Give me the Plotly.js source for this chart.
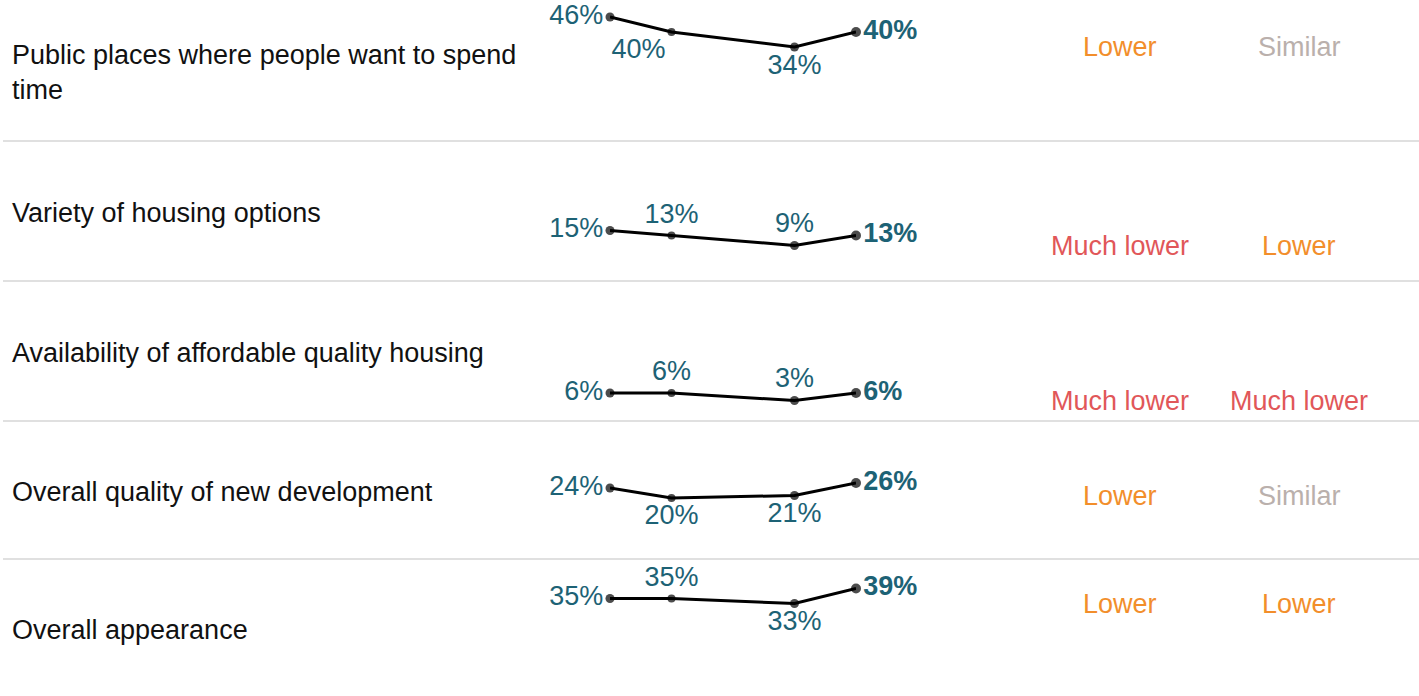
<!DOCTYPE html>
<html>
<head>
<meta charset="utf-8">
<script src="https://cdn.plot.ly/plotly-3.0.1.min.js"></script>
<style>
  html, body { margin: 0; padding: 0; background: #fff; }
  #chart { width: 1419px; height: 696px; }
</style>
</head>
<body>
<div id="chart"></div>
<script>
// data
const ROW_LABELS = [
  "Public places where people want to spend<br>time",
  "Variety of housing options",
  "Availability of affordable quality housing",
  "Overall quality of new development",
  "Overall appearance",
];
const WAVES = [1, 2, 4, 5];
const SCORES = [
  [46, 40, 34, 40],
  [15, 13, 9, 13],
  [6, 6, 3, 6],
  [24, 20, 21, 26],
  [35, 35, 33, 39],
];
const COMPARE_A = ["Lower", "Much lower", "Much lower", "Lower", "Lower"];
const COMPARE_B = ["Similar", "Lower", "Much lower", "Similar", "Lower"];

// styles
const W = 1419, H = 696;
const ROW_EDGES = [0, 141, 281, 421, 559, 696];   // px from top
const ZERO_OFFSET = [132, 127, 127, 127, 127];     // px from row top to 0%
const PX_PER_PCT = 2.5;
const LABEL_POS = [
  ["middle left", "bottom left", "bottom center", "middle right"],
  ["middle left", "top center", "top center", "middle right"],
  ["middle left", "top center", "top center", "middle right"],
  ["middle left", "bottom center", "bottom center", "middle right"],
  ["middle left", "top center", "bottom center", "middle right"],
];
const TEAL = "#1d6275";
const COMPARE_COLORS = { "Lower": "#f28e2b", "Much lower": "#e15759", "Similar": "#bab0ac" };
const FONT = "Liberation Sans, Arial, sans-serif";
const FS = 27;

const data = [];
const layout = {
  width: W, height: H,
  margin: { l: 0, r: 0, t: 0, b: 0 },
  paper_bgcolor: "#fff", plot_bgcolor: "rgba(0,0,0,0)",
  showlegend: false,
  font: { family: FONT, size: FS, color: TEAL },
  annotations: [], shapes: [],
};

SCORES.forEach((vals, i) => {
  const n = i === 0 ? "" : String(i + 1);
  const top = ROW_EDGES[i], bot = ROW_EDGES[i + 1];
  const h = bot - top;
  const yTop = ZERO_OFFSET[i] / PX_PER_PCT;
  const yBot = -(h - ZERO_OFFSET[i]) / PX_PER_PCT;

  layout["xaxis" + n] = {
    domain: [610 / W, 856 / W], range: [WAVES[0], WAVES[WAVES.length - 1]],
    visible: false, fixedrange: true, anchor: "y" + n,
  };
  layout["yaxis" + n] = {
    domain: [1 - bot / H, 1 - top / H], range: [yBot, yTop],
    visible: false, fixedrange: true, anchor: "x" + n,
  };

  data.push({
    type: "scatter", mode: "lines+markers+text",
    x: WAVES, y: vals, xaxis: "x" + n, yaxis: "y" + n,
    line: { color: "#000", width: 3 },
    marker: { color: "#000", size: [9, 8, 9, 10], line: { width: 0 } },
    text: vals.map((v, k) => k === vals.length - 1 ? "<b>" + v + "%</b>" : v + "%"),
    textposition: LABEL_POS[i],
    textfont: { family: FONT, size: FS, color: TEAL },
    cliponaxis: false, hoverinfo: "skip",
  });

  // row label
  layout.annotations.push({
    xref: "paper", yref: "paper", x: 10 / W, y: 1 - (top + h / 2 + 2) / H,
    xanchor: "left", yanchor: "middle", align: "left",
    text: ROW_LABELS[i], showarrow: false,
    font: { family: FONT, size: FS, color: "#111" },
  });

  // comparison columns, sitting at the third wave's level
  [[COMPARE_A[i], 1120], [COMPARE_B[i], 1299]].forEach(([txt, px]) => {
    layout.annotations.push({
      xref: "paper", yref: "y" + n, x: px / W, y: vals[2],
      xanchor: "center", yanchor: "middle",
      text: txt, showarrow: false,
      font: { family: FONT, size: FS, color: COMPARE_COLORS[txt] },
    });
  });

  if (i > 0) {
    layout.shapes.push({
      type: "line", xref: "paper", yref: "paper",
      x0: 3 / W, x1: 1, y0: 1 - top / H, y1: 1 - top / H,
      line: { color: "#d6d6d6", width: 1.5 },
    });
  }
});

Plotly.newPlot("chart", data, layout, { displayModeBar: false, staticPlot: true });
</script>
</body>
</html>
